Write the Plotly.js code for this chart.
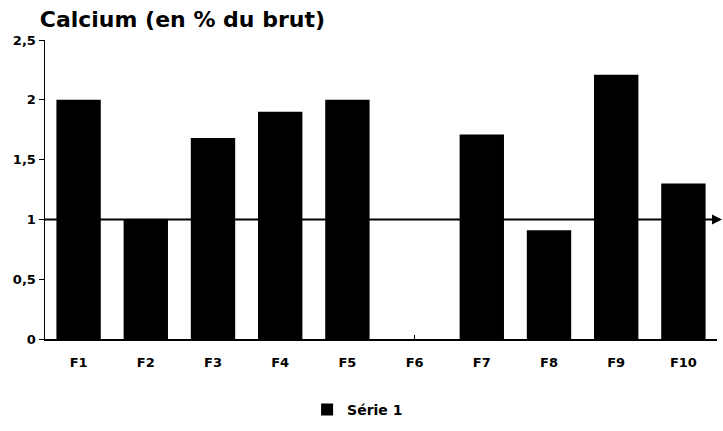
<!DOCTYPE html>
<html>
<head>
<meta charset="utf-8">
<script src="https://cdn.plot.ly/plotly-3.0.1.min.js"></script>
<style>
  html, body { margin: 0; padding: 0; background: #fff; }
  #chart { width: 723px; height: 431px; }
</style>
</head>
<body>
<div id="chart"></div>
<script>
// values
var categories = ['F1', 'F2', 'F3', 'F4', 'F5', 'F6', 'F7', 'F8', 'F9', 'F10'];
var calcium = [2.0, 1.0, 1.68, 1.9, 2.0, 0, 1.71, 0.91, 2.21, 1.3];
var seriesName = 'Série 1';
var refLevel = 1;
var yTicks = [0, 0.5, 1, 1.5, 2, 2.5];

var font = { family: 'DejaVu Sans, Liberation Sans, sans-serif', color: '#000', weight: 'bold' };

var trace = {
  x: categories,
  y: calcium,
  type: 'bar',
  name: seriesName,
  width: 0.66,
  marker: { color: '#000', line: { width: 0 } },
  showlegend: true
};

var layout = {
  width: 723,
  height: 431,
  margin: { l: 45, r: 6, t: 40, b: 91 },
  paper_bgcolor: '#fff',
  plot_bgcolor: '#fff',
  separators: ', ',
  font: Object.assign({ size: 13 }, font),
  title: {
    text: 'Calcium (en % du brut)',
    font: Object.assign({}, font, { size: 22 }),
    xref: 'container', yref: 'container',
    x: 0.055, xanchor: 'left',
    y: 0.955, yanchor: 'middle'
  },
  xaxis: {
    type: 'category',
    showline: true, linecolor: '#000', linewidth: 2,
    ticks: 'inside', ticklen: 4, tickcolor: '#000',
    ticklabelstandoff: 10,
    showgrid: false, zeroline: false,
    tickfont: Object.assign({}, font, { size: 13 }),
    fixedrange: true
  },
  yaxis: {
    range: [0, 2.5],
    tickvals: yTicks,
    ticktext: yTicks.map(function (v) { return String(v).replace('.', ','); }),
    showline: true, linecolor: '#000', linewidth: 1.5,
    ticks: 'outside', ticklen: 5, tickcolor: '#000',
    showgrid: false, zeroline: false,
    tickfont: Object.assign({}, font, { size: 13 }),
    fixedrange: true
  },
  shapes: [{
    type: 'line', layer: 'below',
    xref: 'paper', yref: 'y',
    x0: 0, x1: 1, y0: refLevel, y1: refLevel,
    line: { color: '#000', width: 2 }
  }],
  annotations: [{
    xref: 'paper', yref: 'y',
    x: 1.008, y: refLevel,
    ax: 1.0, ay: refLevel, axref: 'paper', ayref: 'y',
    showarrow: true, arrowhead: 2, arrowsize: 1, arrowwidth: 2,
    arrowcolor: '#000', text: ''
  }],
  legend: {
    orientation: 'h',
    x: 0.39, xanchor: 'left',
    y: -0.233, yanchor: 'middle',
    font: Object.assign({}, font, { size: 14 })
  },
  bargap: 0.34
};

Plotly.newPlot('chart', [trace], layout, { displayModeBar: false, staticPlot: true });
</script>
</body>
</html>
